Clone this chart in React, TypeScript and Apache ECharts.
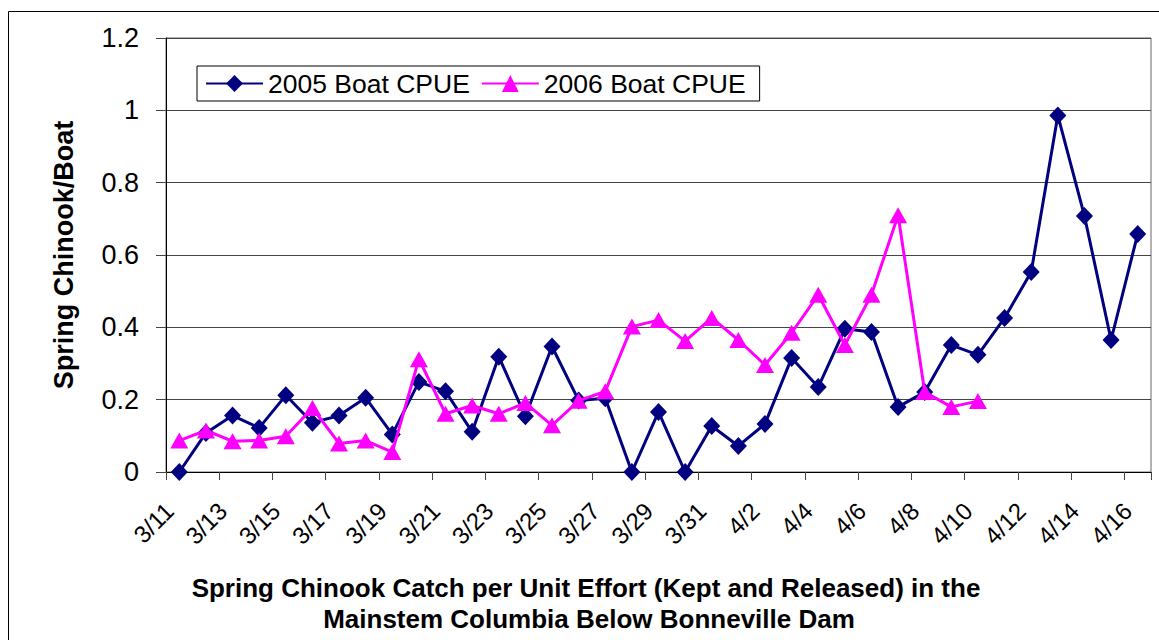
import React, { useEffect, useRef } from "react";
import * as echarts from "echarts";

const dates = [
  "3/11", "3/12", "3/13", "3/14", "3/15", "3/16", "3/17", "3/18", "3/19", "3/20",
  "3/21", "3/22", "3/23", "3/24", "3/25", "3/26", "3/27", "3/28", "3/29", "3/30",
  "3/31", "4/1", "4/2", "4/3", "4/4", "4/5", "4/6", "4/7", "4/8", "4/9",
  "4/10", "4/11", "4/12", "4/13", "4/14", "4/15", "4/16",
];

const boat2005 = [
  0, 0.108, 0.156, 0.122, 0.212, 0.136, 0.156, 0.205, 0.104, 0.249,
  0.223, 0.111, 0.319, 0.154, 0.347, 0.198, 0.204, 0, 0.166, 0,
  0.127, 0.072, 0.133, 0.315, 0.235, 0.396, 0.387, 0.18, 0.221, 0.351,
  0.324, 0.426, 0.553, 0.986, 0.708, 0.365, 0.658,
];

const boat2006 = [
  0.087, 0.115, 0.085, 0.087, 0.099, 0.177, 0.079, 0.087, 0.055, 0.312,
  0.161, 0.184, 0.161, 0.191, 0.129, 0.197, 0.223, 0.402, 0.42, 0.362,
  0.426, 0.365, 0.296, 0.385, 0.49, 0.351, 0.49, 0.71, 0.221, 0.18,
  0.196, null, null, null, null, null, null,
];

const seriesNames = ["2005 Boat CPUE", "2006 Boat CPUE"];
const yTitle = "Spring Chinook/Boat";
const xTitleLines = [
  "Spring Chinook Catch per Unit Effort (Kept and Released) in the",
  "Mainstem Columbia Below Bonneville Dam",
];

const FONT = '"Liberation Sans", Arial, sans-serif';

export default function App() {
  const ref = useRef<HTMLDivElement>(null);
  useEffect(() => {
    document.body.style.margin = "0";
    const chart = echarts.init(ref.current!, null, { renderer: "svg" });
    chart.setOption({
      animation: false,
      backgroundColor: "#fff",
      textStyle: { fontFamily: FONT },
      grid: {
        left: 166,
        right: 8,
        top: 38,
        bottom: 168,
        show: true,
        borderColor: "#666",
        borderWidth: 1,
      },
      legend: {
        left: 197,
        top: 66,
        orient: "horizontal",
        padding: [4, 14, 4, 8],
        itemWidth: 57,
        itemHeight: 21,
        itemGap: 11,
        borderColor: "#000",
        borderWidth: 1,
        borderRadius: 0,
        textStyle: { fontSize: 26.5, color: "#000", fontFamily: FONT },
        data: seriesNames,
      },
      xAxis: {
        type: "category",
        data: dates,
        boundaryGap: true,
        axisLine: { lineStyle: { color: "#000", width: 1 } },
        axisTick: { show: true, interval: 1, length: 8, lineStyle: { color: "#444" } },
        axisLabel: {
          interval: 1,
          rotate: 45,
          color: "#000",
          margin: 25,
          fontFamily: FONT,
          formatter: (v: string) => "{t|" + v + "}{s|}",
          rich: {
            t: { fontSize: 24, color: "#000", fontFamily: FONT },
            s: { width: 14 },
          },
        },
        splitLine: { show: false },
      },
      yAxis: {
        type: "value",
        min: 0,
        max: 1.2,
        interval: 0.2,
        axisLine: { show: true, lineStyle: { color: "#000", width: 1 } },
        axisTick: { show: true, length: 10, lineStyle: { color: "#444" } },
        axisLabel: {
          fontSize: 27,
          color: "#000",
          margin: 27,
          fontFamily: FONT,
          formatter: (v: number) => String(+v.toFixed(1)),
        },
        splitLine: { show: true, lineStyle: { color: "#444", width: 1 } },
      },
      series: [
        {
          name: seriesNames[0],
          type: "line",
          data: boat2005,
          symbol: "diamond",
          symbolSize: [17, 18],
          showAllSymbol: true,
          lineStyle: { color: "#000080", width: 3 },
          itemStyle: { color: "#000080" },
          z: 2,
        },
        {
          name: seriesNames[1],
          type: "line",
          data: boat2006,
          symbol: "triangle",
          symbolSize: [18, 16],
          showAllSymbol: true,
          lineStyle: { color: "#FF00FF", width: 3 },
          itemStyle: { color: "#FF00FF" },
          z: 3,
        },
      ],
      graphic: [
        {
          type: "rect",
          shape: { x: 8.5, y: 11.5, width: 1200, height: 700 },
          style: { fill: "none", stroke: "#000", lineWidth: 1 },
          silent: true,
        },
        {
          type: "text",
          x: 64,
          y: 255,
          rotation: Math.PI / 2,
          style: {
            text: yTitle,
            fontSize: 27,
            fontWeight: "bold",
            fontFamily: FONT,
            fill: "#000",
            align: "center",
            verticalAlign: "middle",
          },
        },
        {
          type: "text",
          x: 586,
          y: 588,
          style: {
            text: xTitleLines[0],
            fontSize: 26,
            fontWeight: "bold",
            fontFamily: FONT,
            fill: "#000",
            align: "center",
            verticalAlign: "middle",
          },
        },
        {
          type: "text",
          x: 589,
          y: 619,
          style: {
            text: xTitleLines[1],
            fontSize: 26,
            fontWeight: "bold",
            fontFamily: FONT,
            fill: "#000",
            align: "center",
            verticalAlign: "middle",
          },
        },
      ],
    });
    return () => chart.dispose();
  }, []);
  return <div ref={ref} style={{ width: 1159, height: 640 }} />;
}
